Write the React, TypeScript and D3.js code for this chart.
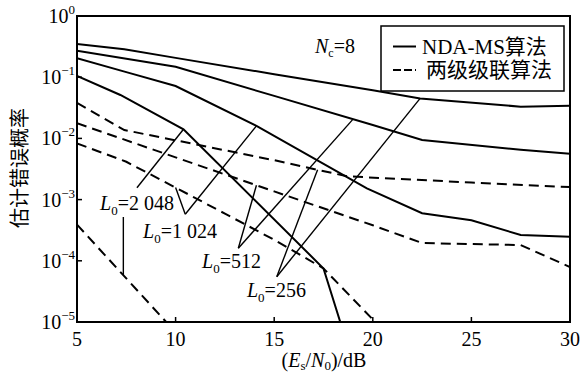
import React, { useEffect, useRef } from 'react'
import * as d3 from 'd3'

// NDA-MS algorithm (solid), L0 = 256, 512, 1024, 2048
const ndaSnr256 = [5, 7.4, 10, 15, 20, 22.4, 27.5, 30]
const ndaErr256 = [0.35, 0.286, 0.207, 0.112, 0.061, 0.045, 0.033, 0.034]
const ndaSnr512 = [5, 10, 15, 20, 22.5, 27.5, 30]
const ndaErr512 = [0.27, 0.148, 0.0495, 0.0166, 0.0094, 0.0065, 0.0056]
const ndaSnr1024 = [5, 7.5, 10, 14.1, 19.7, 22.5, 25, 27.5, 30]
const ndaErr1024 = [0.204, 0.121, 0.0718, 0.016, 0.00153, 0.0006, 0.00046, 0.000264, 0.000248]
const ndaSnr2048 = [5, 7.2, 10.4, 17.5, 18.35]
const ndaErr2048 = [0.105, 0.0512, 0.0141, 7.5e-5, 1e-5]

// two-stage cascade algorithm (dashed)
const casSnr256 = [5, 7.4, 10, 15, 18.7, 25, 30]
const casErr256 = [0.038, 0.0137, 0.0093, 0.0044, 0.0024, 0.0019, 0.0016]
const casSnr512 = [5, 10, 15, 20, 22.5, 27.5, 30]
const casErr512 = [0.0177, 0.0049, 0.00136, 0.00038, 0.000195, 0.000181, 7.9e-5]
const casSnr1024 = [5, 7.5, 10, 12.5, 15, 17.5, 20]
const casErr1024 = [0.0083, 0.00415, 0.00157, 0.00059, 0.00022, 7.5e-5, 1.1e-5]
const casSnr2048 = [5, 10]
const casErr2048 = [3.9e-4, 6.8e-6]

const xTicks = [5, 10, 15, 20, 25, 30]
const yExps = [0, -1, -2, -3, -4, -5]
const legendNames = ['NDA-MS算法', '两级级联算法']

// L0 annotations: label text and label anchor
const annoNames = ['2 048', '1 024', '512', '256']
const annoTextSnr = [6.17, 8.35, 11.34, 13.62]
const annoTextErr = [6.8e-4, 2.36e-4, 7.6e-5, 2.56e-5]

const W = 587
const H = 374

export default function App() {
  const ref = useRef<SVGSVGElement>(null)

  useEffect(() => {
    const svg = d3.select(ref.current)
    svg.selectAll('*').remove()

    const x = d3.scaleLinear().domain([5, 30]).range([77, 570])
    const y = d3.scaleLog().domain([1e-5, 1]).range([322, 16])
    const serif = 'Liberation Serif, Times New Roman, serif'
    const mixed = 'Liberation Serif, Noto Sans CJK SC, serif'
    const cjk = 'Noto Sans CJK SC, sans-serif'

    const zip = (a: number[], b: number[]) => a.map((v, i) => [v, b[i]] as [number, number])
    const series = [
      { pts: zip(ndaSnr256, ndaErr256), dash: false },
      { pts: zip(ndaSnr512, ndaErr512), dash: false },
      { pts: zip(ndaSnr1024, ndaErr1024), dash: false },
      { pts: zip(ndaSnr2048, ndaErr2048), dash: false },
      { pts: zip(casSnr256, casErr256), dash: true },
      { pts: zip(casSnr512, casErr512), dash: true },
      { pts: zip(casSnr1024, casErr1024), dash: true },
      { pts: zip(casSnr2048, casErr2048), dash: true },
    ]

    // value of a series at snr, linear in log space
    const onCurve = (pts: [number, number][], sx: number) => {
      for (let i = 0; i < pts.length - 1; i++) {
        if (sx >= pts[i][0] && sx <= pts[i + 1][0]) {
          const t = (sx - pts[i][0]) / (pts[i + 1][0] - pts[i][0])
          const l = Math.log10(pts[i][1]) + t * (Math.log10(pts[i + 1][1]) - Math.log10(pts[i][1]))
          return Math.pow(10, l)
        }
      }
      return pts[pts.length - 1][1]
    }

    svg.append('rect').attr('width', W).attr('height', H).attr('fill', '#fff')

    svg.append('clipPath').attr('id', 'plot')
      .append('rect')
      .attr('x', x(5)).attr('y', y(1))
      .attr('width', x(30) - x(5)).attr('height', y(1e-5) - y(1))

    const line = d3.line<[number, number]>().x(d => x(d[0])).y(d => y(d[1]))

    const g = svg.append('g').attr('clip-path', 'url(#plot)')
    g.selectAll('path.curve')
      .data(series)
      .enter()
      .append('path')
      .attr('class', 'curve')
      .attr('d', d => line(d.pts))
      .attr('fill', 'none')
      .attr('stroke', '#000')
      .attr('stroke-width', 2)
      .attr('stroke-dasharray', d => (d.dash ? '10,6' : null))

    // leader lines from the L0 labels
    const nda = series.slice(0, 4).map(s => s.pts)
    const cas = series.slice(4).map(s => s.pts)
    const leaders: [number, number, [number, number][], number][] = [
      [7.35, 5.2e-4, cas[3], 7.35],
      [8.04, 0.00156, nda[3], 10.4],
      [10.49, 5.75e-4, cas[2], 10.0],
      [10.49, 5.75e-4, nda[2], 14.1],
      [13.18, 1.6e-4, cas[1], 14.1],
      [13.18, 1.6e-4, nda[1], 19.0],
      [15.13, 5.5e-5, cas[0], 17.2],
      [15.13, 5.5e-5, nda[0], 22.4],
    ]
    svg.selectAll('line.leader')
      .data(leaders)
      .enter()
      .append('line')
      .attr('x1', d => x(d[0])).attr('y1', d => y(d[1]))
      .attr('x2', d => x(d[3])).attr('y2', d => y(onCurve(d[2], d[3])))
      .attr('stroke', '#000')
      .attr('stroke-width', 1.4)

    // frame
    svg.append('rect')
      .attr('x', x(5)).attr('y', y(1))
      .attr('width', x(30) - x(5)).attr('height', y(1e-5) - y(1))
      .attr('fill', 'none').attr('stroke', '#000').attr('stroke-width', 2)

    // x ticks
    svg.selectAll('line.xt')
      .data(xTicks.slice(1, -1))
      .enter()
      .append('line')
      .attr('x1', d => x(d)).attr('x2', d => x(d))
      .attr('y1', y(1e-5)).attr('y2', y(1e-5) - 5)
      .attr('stroke', '#000').attr('stroke-width', 1.5)
    svg.selectAll('text.xt')
      .data(xTicks)
      .enter()
      .append('text')
      .attr('x', d => x(d)).attr('y', 346)
      .attr('text-anchor', 'middle')
      .attr('font-family', serif).attr('font-size', 20)
      .text(d => d)

    // y ticks
    svg.selectAll('line.yt')
      .data(yExps.slice(1, -1))
      .enter()
      .append('line')
      .attr('x1', x(5)).attr('x2', x(5) + 5)
      .attr('y1', d => y(Math.pow(10, d))).attr('y2', d => y(Math.pow(10, d)))
      .attr('stroke', '#000').attr('stroke-width', 1.5)
    const yl = svg.selectAll('text.yt')
      .data(yExps)
      .enter()
      .append('text')
      .attr('x', 75).attr('y', d => y(Math.pow(10, d)) + 7)
      .attr('text-anchor', 'end')
      .attr('font-family', serif).attr('font-size', 20)
    yl.append('tspan').text('10')
    yl.append('tspan').attr('dy', -9).attr('font-size', 13)
      .text(d => (d === 0 ? '0' : '\u2212' + Math.abs(d)))

    // axis titles
    const xt = svg.append('text')
      .attr('x', 324).attr('y', 367)
      .attr('text-anchor', 'middle')
      .attr('font-family', serif).attr('font-size', 20)
    xt.append('tspan').text('(')
    xt.append('tspan').attr('font-style', 'italic').text('E')
    xt.append('tspan').attr('font-size', 13).attr('dy', 3).text('s')
    xt.append('tspan').attr('dy', -3).text('/')
    xt.append('tspan').attr('font-style', 'italic').text('N')
    xt.append('tspan').attr('font-size', 13).attr('dy', 3).text('0')
    xt.append('tspan').attr('dy', -3).text(')/dB')

    svg.append('text')
      .attr('transform', 'translate(27,168) rotate(-90)')
      .attr('text-anchor', 'middle')
      .attr('font-family', cjk).attr('font-size', 20)
      .text('估计错误概率')

    // L0 labels
    const al = svg.selectAll('text.anno')
      .data(annoNames)
      .enter()
      .append('text')
      .attr('x', (d, i) => x(annoTextSnr[i]))
      .attr('y', (d, i) => y(annoTextErr[i]))
      .attr('font-family', serif).attr('font-size', 20)
    al.append('tspan').attr('font-style', 'italic').text('L')
    al.append('tspan').attr('font-size', 13).attr('dy', 5).text('0')
    al.append('tspan').attr('dy', -5).text(d => '=' + d)

    // Nc = 8
    const nc = svg.append('text')
      .attr('x', 315).attr('y', 53)
      .attr('font-family', serif).attr('font-size', 20)
    nc.append('tspan').attr('font-style', 'italic').text('N')
    nc.append('tspan').attr('font-size', 12).attr('dy', 4).text('c')
    nc.append('tspan').attr('dy', -4).text('=8')

    // legend
    const lg = svg.append('g')
    lg.append('rect')
      .attr('x', 381).attr('y', 26).attr('width', 183).attr('height', 65)
      .attr('fill', '#fff').attr('stroke', '#000').attr('stroke-width', 1.5)
    const rows = lg.selectAll('g.item')
      .data(legendNames)
      .enter()
      .append('g')
      .attr('transform', (d, i) => `translate(0,${46.5 + i * 23.5})`)
    rows.append('line')
      .attr('x1', 393).attr('x2', 416)
      .attr('stroke', '#000').attr('stroke-width', 2)
      .attr('stroke-dasharray', (d, i) => (i === 1 ? '8,3' : null))
    rows.append('text')
      .attr('x', (d, i) => (i === 1 ? 426 : 422)).attr('y', 7)
      .attr('font-family', mixed).attr('font-size', 21)
      .text(d => d)
  }, [])

  return (
    <svg
      ref={ref}
      width={W}
      height={H}
      style={{ position: 'absolute', left: 0, top: 0 }}
    />
  )
}
